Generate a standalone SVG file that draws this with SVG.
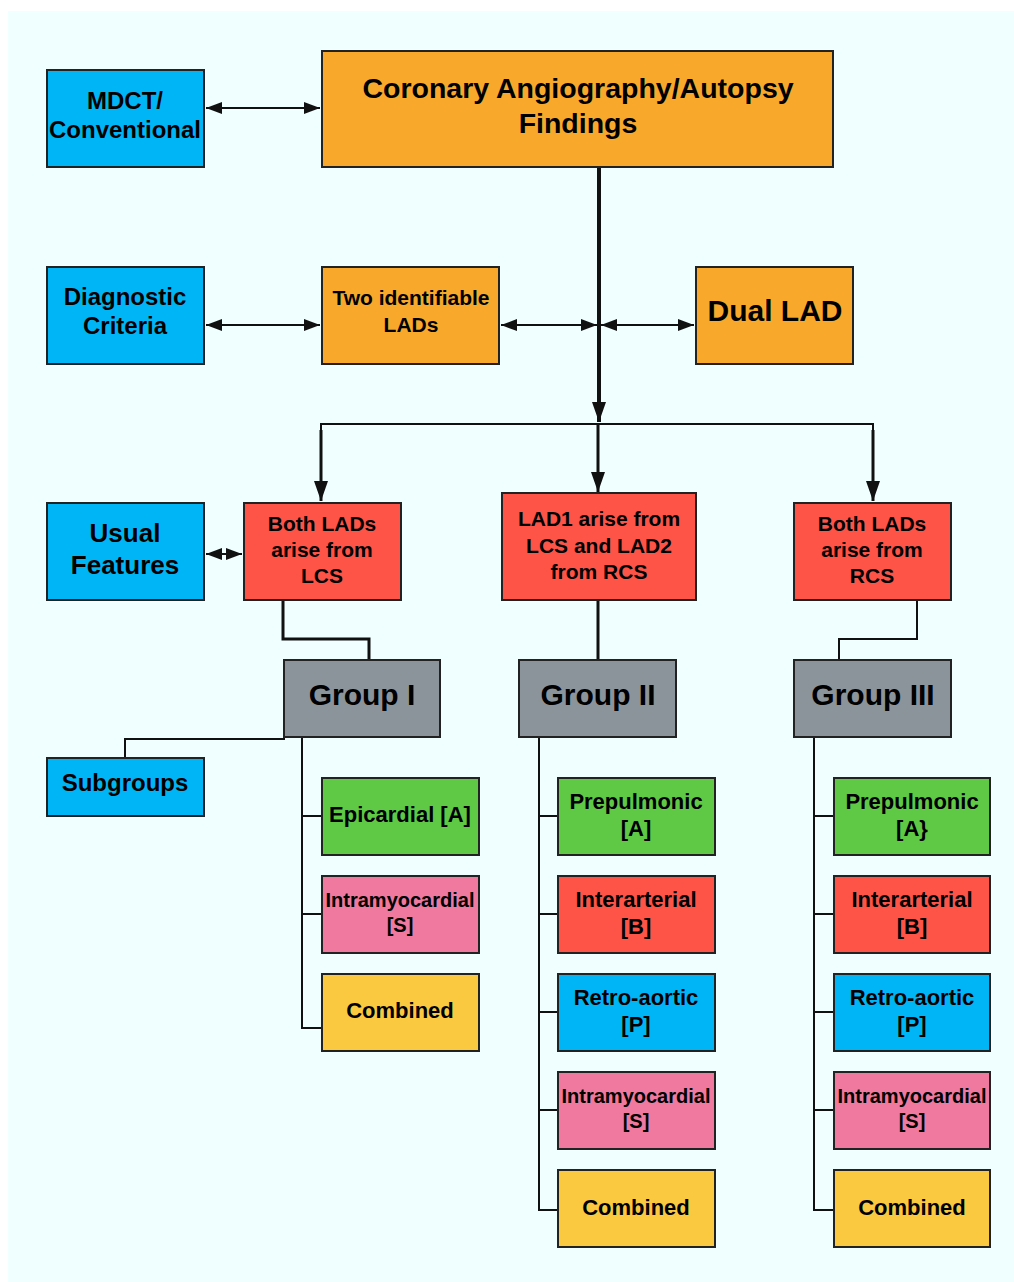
<svg xmlns="http://www.w3.org/2000/svg" width="1014" height="1282" viewBox="0 0 1014 1282">
<defs>
<style>
.box{stroke:#222;stroke-width:2}
.blue{fill:#00b5f6}.orange{fill:#f8a92b}.red{fill:#fd5447}.gray{fill:#8c949b}.green{fill:#5fc946}.pink{fill:#f0799f}.yellow{fill:#fbc93f}
text{font-family:"Liberation Sans",Arial,sans-serif;font-weight:bold;fill:#000;text-anchor:middle}
.c{fill:none;stroke:#111}
.t4{stroke-width:4}.t3{stroke-width:3}.t2{stroke-width:2}
</style>
<marker id="ah" viewBox="0 0 16 12" refX="16" refY="6" markerWidth="16" markerHeight="12" markerUnits="userSpaceOnUse" orient="auto-start-reverse">
<path d="M0,0 L16,6 L0,12 z" fill="#111"/>
</marker>
<marker id="ahb" viewBox="0 0 20 14" refX="20" refY="7" markerWidth="20" markerHeight="14" markerUnits="userSpaceOnUse" orient="auto">
<path d="M0,0 L20,7 L0,14 z" fill="#111"/>
</marker>
</defs>
<rect x="0" y="0" width="1014" height="1282" fill="#ffffff"/>
<rect x="8" y="11" width="1006" height="1271" fill="#f0ffff"/>

<g id="connectors">
<line class="c t2" x1="206" y1="108" x2="320" y2="108" marker-start="url(#ah)" marker-end="url(#ah)"/>
<line class="c t2" x1="206" y1="325" x2="320" y2="325" marker-start="url(#ah)" marker-end="url(#ah)"/>
<line class="c t2" x1="501" y1="325" x2="597" y2="325" marker-start="url(#ah)" marker-end="url(#ah)"/>
<line class="c t2" x1="601" y1="325" x2="694" y2="325" marker-start="url(#ah)" marker-end="url(#ah)"/>
<line class="c t4" x1="599" y1="168" x2="599" y2="422" marker-end="url(#ahb)"/>
<polyline class="c t2" points="321,498 321,424 873,424 873,498"/>
<line class="c t3" x1="321" y1="430" x2="321" y2="501" marker-end="url(#ahb)"/>
<line class="c t3" x1="598" y1="424" x2="598" y2="492" marker-end="url(#ahb)"/>
<line class="c t3" x1="873" y1="430" x2="873" y2="501" marker-end="url(#ahb)"/>
<line class="c t2" x1="206" y1="554" x2="242" y2="554" marker-start="url(#ah)" marker-end="url(#ah)"/>
<polyline class="c t3" points="283,601 283,639 369,639 369,659"/>
<line class="c t3" x1="598" y1="601" x2="598" y2="659"/>
<polyline class="c t2" points="917,601 917,639 839,639 839,659"/>
<polyline class="c t2" points="125,757 125,739 285,739"/>
<polyline class="c t2" points="302,738 302,1028 321,1028"/>
<line class="c t2" x1="302" y1="816" x2="321" y2="816"/>
<line class="c t2" x1="302" y1="914" x2="321" y2="914"/>
<polyline class="c t2" points="539,738 539,1210 557,1210"/>
<line class="c t2" x1="539" y1="816" x2="557" y2="816"/>
<line class="c t2" x1="539" y1="914" x2="557" y2="914"/>
<line class="c t2" x1="539" y1="1012" x2="557" y2="1012"/>
<line class="c t2" x1="539" y1="1110" x2="557" y2="1110"/>
<polyline class="c t2" points="814,738 814,1210 833,1210"/>
<line class="c t2" x1="814" y1="816" x2="833" y2="816"/>
<line class="c t2" x1="814" y1="914" x2="833" y2="914"/>
<line class="c t2" x1="814" y1="1012" x2="833" y2="1012"/>
<line class="c t2" x1="814" y1="1110" x2="833" y2="1110"/>
</g>

<g id="mdct"><rect class="box blue" x="47" y="70" width="157" height="97"/>
<text x="125" y="109" font-size="24">MDCT/</text><text x="125" y="138" font-size="24">Conventional</text></g>

<g id="coronary"><rect class="box orange" x="322" y="51" width="511" height="116"/>
<text x="578" y="98" font-size="28.5">Coronary Angiography/Autopsy</text><text x="578" y="133" font-size="28.5">Findings</text></g>

<g id="diagnostic"><rect class="box blue" x="47" y="267" width="157" height="97"/>
<text x="125" y="305" font-size="24">Diagnostic</text><text x="125" y="334" font-size="24">Criteria</text></g>

<g id="two"><rect class="box orange" x="322" y="267" width="177" height="97"/>
<text x="411" y="305" font-size="21">Two identifiable</text><text x="411" y="332" font-size="21">LADs</text></g>

<g id="dual"><rect class="box orange" x="696" y="267" width="157" height="97"/>
<text x="775" y="321" font-size="30">Dual LAD</text></g>

<g id="usual"><rect class="box blue" x="47" y="503" width="157" height="97"/>
<text x="125" y="542" font-size="26">Usual</text><text x="125" y="574" font-size="26">Features</text></g>

<g id="lcs"><rect class="box red" x="244" y="503" width="157" height="97"/>
<text x="322" y="531" font-size="21">Both LADs</text><text x="322" y="557" font-size="21">arise from</text><text x="322" y="583" font-size="21">LCS</text></g>

<g id="lad1"><rect class="box red" x="502" y="493" width="194" height="107"/>
<text x="599" y="526" font-size="21">LAD1 arise from</text><text x="599" y="553" font-size="21">LCS and LAD2</text><text x="599" y="579" font-size="21">from RCS</text></g>

<g id="rcs"><rect class="box red" x="794" y="503" width="157" height="97"/>
<text x="872" y="531" font-size="21">Both LADs</text><text x="872" y="557" font-size="21">arise from</text><text x="872" y="583" font-size="21">RCS</text></g>

<g id="group1"><rect class="box gray" x="284" y="660" width="156" height="77"/>
<text x="362" y="705" font-size="30">Group I</text></g>
<g id="group2"><rect class="box gray" x="519" y="660" width="157" height="77"/>
<text x="598" y="705" font-size="30">Group II</text></g>
<g id="group3"><rect class="box gray" x="794" y="660" width="157" height="77"/>
<text x="873" y="705" font-size="30">Group III</text></g>

<g id="subgroups"><rect class="box blue" x="47" y="758" width="157" height="58"/>
<text x="125" y="791" font-size="24">Subgroups</text></g>

<g id="g1a"><rect class="box green" x="322" y="778" width="157" height="77"/>
<text x="400" y="822" font-size="22">Epicardial [A]</text></g>
<g id="g1s"><rect class="box pink" x="322" y="876" width="157" height="77"/>
<text x="400" y="907" font-size="20">Intramyocardial</text><text x="400" y="932" font-size="20">[S]</text></g>
<g id="g1c"><rect class="box yellow" x="322" y="974" width="157" height="77"/>
<text x="400" y="1018" font-size="22">Combined</text></g>

<g id="g2a"><rect class="box green" x="558" y="778" width="157" height="77"/>
<text x="636" y="809" font-size="22">Prepulmonic</text><text x="636" y="836" font-size="22">[A]</text></g>
<g id="g2b"><rect class="box red" x="558" y="876" width="157" height="77"/>
<text x="636" y="907" font-size="22">Interarterial</text><text x="636" y="934" font-size="22">[B]</text></g>
<g id="g2p"><rect class="box blue" x="558" y="974" width="157" height="77"/>
<text x="636" y="1005" font-size="22">Retro-aortic</text><text x="636" y="1032" font-size="22">[P]</text></g>
<g id="g2s"><rect class="box pink" x="558" y="1072" width="157" height="77"/>
<text x="636" y="1103" font-size="20">Intramyocardial</text><text x="636" y="1128" font-size="20">[S]</text></g>
<g id="g2c"><rect class="box yellow" x="558" y="1170" width="157" height="77"/>
<text x="636" y="1215" font-size="22">Combined</text></g>

<g id="g3a"><rect class="box green" x="834" y="778" width="156" height="77"/>
<text x="912" y="809" font-size="22">Prepulmonic</text><text x="912" y="836" font-size="22">[A}</text></g>
<g id="g3b"><rect class="box red" x="834" y="876" width="156" height="77"/>
<text x="912" y="907" font-size="22">Interarterial</text><text x="912" y="934" font-size="22">[B]</text></g>
<g id="g3p"><rect class="box blue" x="834" y="974" width="156" height="77"/>
<text x="912" y="1005" font-size="22">Retro-aortic</text><text x="912" y="1032" font-size="22">[P]</text></g>
<g id="g3s"><rect class="box pink" x="834" y="1072" width="156" height="77"/>
<text x="912" y="1103" font-size="20">Intramyocardial</text><text x="912" y="1128" font-size="20">[S]</text></g>
<g id="g3c"><rect class="box yellow" x="834" y="1170" width="156" height="77"/>
<text x="912" y="1215" font-size="22">Combined</text></g>
</svg>
